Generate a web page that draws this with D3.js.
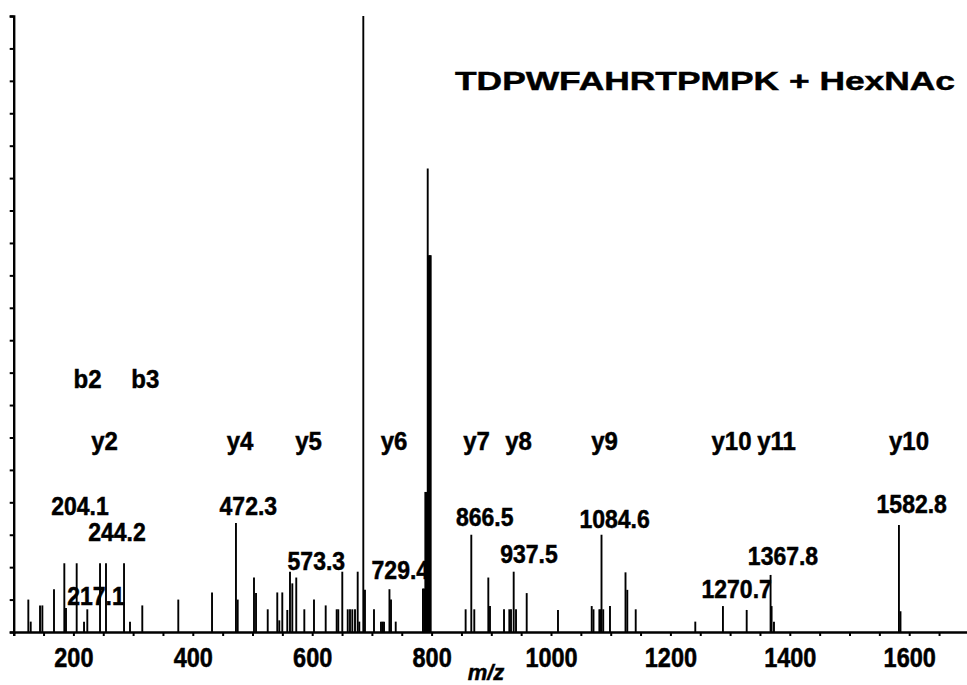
<!DOCTYPE html>
<html><head><meta charset="utf-8">
<script src="https://cdn.jsdelivr.net/npm/d3@7"></script>
<style>
html,body{margin:0;padding:0;background:#fff;}
svg text{font-family:"Liberation Sans",Arial,sans-serif;font-weight:bold;fill:#000;stroke:#000;stroke-width:0.45px;}
</style></head>
<body><svg id="chart" width="967" height="685"></svg>
<script>
// ---- data (m/z, relative intensity in axis units; 95 = top of axis) ----
const peakMz = [124.5,128.5,144.1,148,167.5,184.8,187.6,205.5,217.8,223.3,244.6,254.6,284.8,294.8,315.4,375.7,432.2,472.3,475.2,502.5,505.9,525.5,541.5,544.9,549.9,558.3,562.8,566.7,573.3,586.8,603,622.6,641,643.7,650.4,659.5,663.3,667.2,671.7,676.2,678.9,685.6,688.4,703.5,715.2,717.8,720.3,729.4,732,739.9,785.5,787.5,789.5,791.5,793.5,795.5,797,798.5,857,866.5,871.5,895,897.8,921.3,930.2,933,937.5,941.4,959.3,1011.7,1068.2,1071.2,1081,1083,1084.6,1087.5,1098.8,1124.8,1127.8,1141.9,1241.7,1288,1327.8,1367.8,1369.5,1373.5,1582.8,1585.4];
const peakInt = [5.0,1.6,4.1,4.1,6.6,10.6,3.7,10.6,1.6,3.5,10.6,10.6,10.6,1.6,4.1,5.0,6.1,16.8,5.0,8.4,6.0,3.5,6.1,1.8,6.1,3.4,9.3,7.5,8.4,3.5,5.0,4.1,3.5,3.5,9.3,3.5,3.5,3.5,3.5,9.3,1.6,100,6.5,3.5,1.6,1.6,1.6,6.6,5.0,1.6,6.7,6.7,21.6,21.6,71.5,58.1,58.1,58.1,3.5,15.0,3.5,8.4,4.0,3.5,3.5,3.5,9.3,3.5,6.0,3.4,4.0,3.5,3.5,3.5,15.0,3.5,4.0,9.2,6.5,3.5,1.6,4.0,3.4,8.8,4.0,1.6,16.5,3.2];

const massLabels = ["204.1","244.2","217.1","472.3","573.3","729.4","866.5","937.5","1084.6","1270.7","1367.8","1582.8"];
const massLabelMz = [211,273,237.9,493,606.9,747.6,889,963.2,1106.4,1311,1388.6,1604.2];
const massLabelInt = [18.0,14.1,4.2,18.0,9.6,8.2,16.3,10.7,16.0,5.2,10.3,18.4];

const ionLabels = ["y2","y4","y5","y6","y7","y8","y9","y10","y11","y10","b2","b3"];
const ionLabelMz = [252.1,479.1,593.8,737,875.2,945.6,1089.6,1302.4,1377.7,1599.7,223.6,320.4];
const ionLabelInt = [28.1,28.1,28.1,28.1,28.1,28.1,28.1,28.1,28.1,28.1,37.6,37.6];

const xTickValues = d3.range(100, 1701, 50);
const xTickLabels = [200,400,600,800,1000,1200,1400,1600];
const yTickValues = d3.range(0, 96, 5);
const titleText = "TDPWFAHRTPMPK + HexNAc";
const axisTitle = "m/z";

// ---- scales ----
const svg = d3.select("#chart");
const x = d3.scaleLinear().domain([100, 1700]).range([13.7, 968.9]);
const y = d3.scaleLinear().domain([0, 95]).range([632, 16]).clamp(true);

// peaks
svg.append("g").selectAll("line").data(peakMz).join("line")
  .attr("x1", d => x(d)).attr("x2", d => x(d))
  .attr("y1", y(0)).attr("y2", (d, i) => y(peakInt[i]))
  .attr("stroke", "#000").attr("stroke-width", 1.9);

// axes
const xAxis = d3.axisBottom(x).tickValues(xTickValues).tickSize(4)
  .tickFormat(d => xTickLabels.includes(d) ? d : "");
const gx = svg.append("g").attr("transform", `translate(0,${y(0)})`).call(xAxis);
gx.select(".domain").attr("stroke-width", 2.4);
gx.selectAll(".tick line").attr("stroke-width", 2);
gx.selectAll(".tick text")
  .attr("y", null).attr("dy", null)
  .attr("transform", "translate(0,35) scale(1,1.2)")
  .attr("font-size", 23.5);

const yAxis = d3.axisLeft(y).tickValues(yTickValues).tickSize(4).tickFormat("");
const gy = svg.append("g").attr("transform", `translate(${x(100)},0)`).call(yAxis);
gy.select(".domain").attr("stroke-width", 2.4);
gy.selectAll(".tick line").attr("stroke-width", 2);

// labels
svg.append("g").selectAll("text").data(massLabels).join("text")
  .attr("transform", (d, i) => `translate(${x(massLabelMz[i])},${y(massLabelInt[i])}) scale(1,1.1)`)
  .attr("text-anchor", "middle").attr("font-size", 23).text(d => d);

svg.append("g").selectAll("text").data(ionLabels).join("text")
  .attr("transform", (d, i) => `translate(${x(ionLabelMz[i])},${y(ionLabelInt[i])}) scale(1,1.05)`)
  .attr("text-anchor", "middle").attr("font-size", 24).text(d => d);

svg.append("text").attr("x", 455).attr("y", 90).attr("font-size", 26)
  .attr("textLength", 500).attr("lengthAdjust", "spacingAndGlyphs").text(titleText);

svg.append("text").attr("x", 486).attr("y", 680).attr("text-anchor", "middle")
  .attr("font-size", 22).style("font-style", "italic").text(axisTitle);
</script></body></html>
